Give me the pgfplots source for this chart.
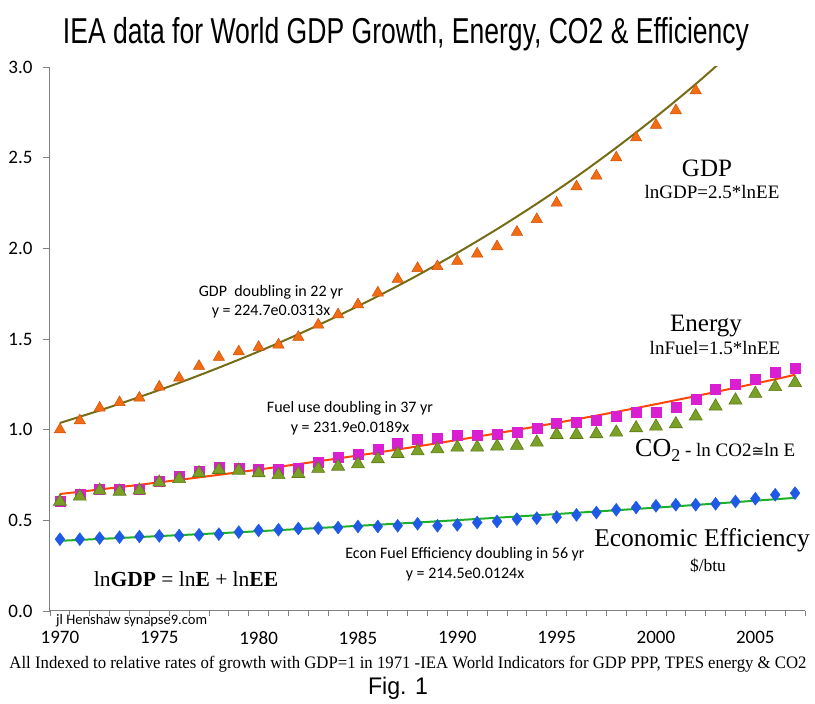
\documentclass[border=0pt]{standalone}
\usepackage{pgfplots}
\pgfplotsset{compat=1.18}
\usepackage{fontspec}
\usepackage{graphicx}
\setmainfont{Liberation Serif}
\newfontfamily\calibri{Carlito}
\newfontfamily\arialf{Liberation Sans}
\newfontfamily\dejasans{DejaVu Sans}
\definecolor{gdpfill}{RGB}{242,108,18}
\definecolor{gdpedge}{RGB}{205,80,10}
\definecolor{gdpline}{RGB}{118,108,22}
\definecolor{enfill}{RGB}{218,30,210}
\definecolor{enline}{RGB}{255,70,0}
\definecolor{cofill}{RGB}{122,160,40}
\definecolor{coedge}{RGB}{92,122,22}
\definecolor{eefill}{RGB}{30,90,230}
\definecolor{eeline}{RGB}{30,175,40}
\definecolor{axgray}{RGB}{128,128,128}
\begin{document}
\begin{tikzpicture}[x=1pt,y=1pt]
\path[use as bounding box] (0,0) rectangle (815,704);
\begin{axis}[
  at={(50pt,93pt)}, anchor=south west,
  width=755pt, height=544pt, scale only axis,
  xmin=1969.5, xmax=2007.5, ymin=0, ymax=3,
  axis x line*=bottom, axis y line*=left,
  axis line style={axgray, line width=1pt},
  xtick={1970,1975,...,2005},
  major x tick style={draw=none},
  minor xtick={1969.5,1970.5,...,2007.5},
  minor x tick style={axgray, line width=0.8pt},
  minor tick length=5pt,
  ytick={0,0.5,...,3.0},
  major y tick style={axgray, line width=0.8pt},
  major tick length=7pt,
  tick align=outside,
  /pgf/number format/assume math mode=true,
  xticklabel style={font=\calibri\fontsize{19}{20}\selectfont, /pgf/number format/1000 sep={}, yshift=-10pt},
  yticklabel style={font=\calibri\fontsize{19}{20}\selectfont, /pgf/number format/fixed, /pgf/number format/fixed zerofill, /pgf/number format/precision=1, xshift=-7pt},
]
% Energy (magenta squares)
\addplot[only marks, mark=square*, mark size=5pt, mark options={fill=enfill, draw=enfill}] coordinates {
(1970,0.604)(1971,0.645)(1972,0.672)(1973,0.674)(1974,0.672)(1975,0.718)(1976,0.742)(1977,0.770)(1978,0.792)(1979,0.788)
(1980,0.783)(1981,0.783)(1982,0.788)(1983,0.823)(1984,0.847)(1985,0.867)(1986,0.895)(1987,0.926)(1988,0.945)(1989,0.954)
(1990,0.969)(1991,0.972)(1992,0.976)(1993,0.985)(1994,1.009)(1995,1.033)(1996,1.042)(1997,1.051)(1998,1.074)(1999,1.096)
(2000,1.099)(2001,1.123)(2002,1.166)(2003,1.221)(2004,1.249)(2005,1.280)(2006,1.317)(2007,1.341)};
% CO2 (green triangles)
\addplot[only marks, mark=triangle*, mark size=7.5pt, mark options={fill=cofill, draw=coedge, line width=0.6pt}] coordinates {
(1970,0.604)(1971,0.632)(1972,0.665)(1973,0.659)(1974,0.665)(1975,0.709)(1976,0.729)(1977,0.761)(1978,0.779)(1979,0.775)
(1980,0.761)(1981,0.751)(1982,0.757)(1983,0.785)(1984,0.797)(1985,0.810)(1986,0.838)(1987,0.867)(1988,0.882)(1989,0.893)
(1990,0.902)(1991,0.902)(1992,0.908)(1993,0.912)(1994,0.930)(1995,0.972)(1996,0.972)(1997,0.976)(1998,0.985)(1999,1.009)
(2000,1.018)(2001,1.031)(2002,1.074)(2003,1.129)(2004,1.162)(2005,1.199)(2006,1.236)(2007,1.258)};
% Economic efficiency (blue diamonds)
\addplot[only marks, mark=diamond*, mark size=6.5pt, mark options={fill=eefill, draw=eefill}] coordinates {
(1970,0.396)(1971,0.396)(1972,0.402)(1973,0.407)(1974,0.411)(1975,0.414)(1976,0.416)(1977,0.420)(1978,0.424)(1979,0.435)
(1980,0.444)(1981,0.448)(1982,0.455)(1983,0.457)(1984,0.460)(1985,0.466)(1986,0.466)(1987,0.470)(1988,0.481)(1989,0.470)
(1990,0.475)(1991,0.488)(1992,0.494)(1993,0.507)(1994,0.512)(1995,0.518)(1996,0.530)(1997,0.543)(1998,0.558)(1999,0.571)
(2000,0.580)(2001,0.586)(2002,0.586)(2003,0.591)(2004,0.604)(2005,0.619)(2006,0.641)(2007,0.650)};
% GDP (orange triangles)
\addplot[only marks, mark=triangle*, mark size=6.5pt, mark options={fill=gdpfill, draw=gdpedge, line width=0.5pt}] coordinates {
(1970,1.00)(1971,1.05)(1972,1.12)(1973,1.15)(1974,1.175)(1975,1.236)(1976,1.285)(1977,1.35)(1978,1.40)(1979,1.43)
(1980,1.455)(1981,1.468)(1982,1.51)(1983,1.578)(1984,1.635)(1985,1.69)(1986,1.755)(1987,1.83)(1988,1.89)(1989,1.90)
(1990,1.93)(1991,1.97)(1992,2.01)(1993,2.09)(1994,2.16)(1995,2.25)(1996,2.34)(1997,2.40)(1998,2.50)(1999,2.61)
(2000,2.68)(2001,2.76)(2002,2.87)};
% Trend lines
\addplot[gdpline, line width=2pt, smooth, no marks] coordinates {
(1970,1.037)(1972,1.106)(1974,1.180)(1976,1.258)(1978,1.342)(1980,1.431)(1982,1.526)(1984,1.628)(1986,1.736)
(1988,1.851)(1990,1.975)(1992,2.106)(1994,2.246)(1996,2.395)(1998,2.555)(2000,2.725)(2002,2.906)(2004,3.099)};
\addplot[enline, line width=2pt, smooth, no marks] coordinates {
(1970,0.645)(1974,0.696)(1978,0.751)(1982,0.810)(1986,0.874)(1990,0.943)(1994,1.018)(1998,1.098)(2002,1.185)(2006,1.278)(2007,1.303)};
\addplot[eeline, line width=2pt, smooth, no marks] coordinates {
(1970,0.387)(1980,0.440)(1990,0.501)(2000,0.570)(2007,0.624)};
\end{axis}
% Title and captions
\node[anchor=base] at (406,660) {\resizebox{686pt}{\height}{\arialf\fontsize{36}{40}\selectfont IEA data for World GDP Growth, Energy, CO2 \& Efficiency}};
\node[anchor=base] at (408,35) {\resizebox{797pt}{\height}{\fontsize{17.5}{20}\selectfont All Indexed to relative rates of growth with GDP=1 in 1971 -IEA World Indicators for GDP PPP, TPES energy \& CO2}};
\node[anchor=base] at (398,9) {\resizebox{60pt}{\height}{\arialf\fontsize{24}{26}\selectfont Fig. 1}};
\node[anchor=base west, inner sep=0pt] at (56,79) {\calibri\fontsize{14.5}{16}\selectfont jl Henshaw synapse9.com};
% Annotations
\node[anchor=base] at (271,407) {\calibri\fontsize{16}{18}\selectfont GDP\ \ doubling in 22 yr};
\node[anchor=base] at (271,388) {\calibri\fontsize{16}{18}\selectfont y = 224.7e0.0313x};
\node[anchor=base] at (350,291) {\calibri\fontsize{16}{18}\selectfont Fuel use doubling in 37 yr};
\node[anchor=base] at (350,271) {\calibri\fontsize{16}{18}\selectfont y = 231.9e0.0189x};
\node[anchor=base] at (465,145) {\calibri\fontsize{16}{18}\selectfont Econ Fuel Efficiency doubling in 56 yr};
\node[anchor=base] at (465,125) {\calibri\fontsize{16}{18}\selectfont y = 214.5e0.0124x};
\node[anchor=base] at (707,527) {\fontsize{25}{28}\selectfont GDP};
\node[anchor=base] at (712,505) {\fontsize{19}{21}\selectfont lnGDP=2.5*lnEE};
\node[anchor=base] at (706,372) {\fontsize{25}{28}\selectfont Energy};
\node[anchor=base] at (715,349) {\fontsize{19}{21}\selectfont lnFuel=1.5*lnEE};
\node[anchor=base west, inner sep=0pt] at (635,247) {\fontsize{26}{28}\selectfont CO\raisebox{-5pt}{\fontsize{18}{20}\selectfont 2}\fontsize{19}{21}\selectfont\ - ln CO2{\dejasans\fontsize{15}{18}\selectfont ≅}ln E};
\node[anchor=base] at (702,157) {\fontsize{25.5}{28}\selectfont Economic Efficiency};
\node[anchor=base] at (708,132) {\fontsize{17.5}{19}\selectfont \$/btu};
\node[anchor=base] at (186,117) {\fontsize{21.5}{24}\selectfont ln\textbf{GDP} = ln\textbf{E} + ln\textbf{EE}};
\end{tikzpicture}
\end{document}
